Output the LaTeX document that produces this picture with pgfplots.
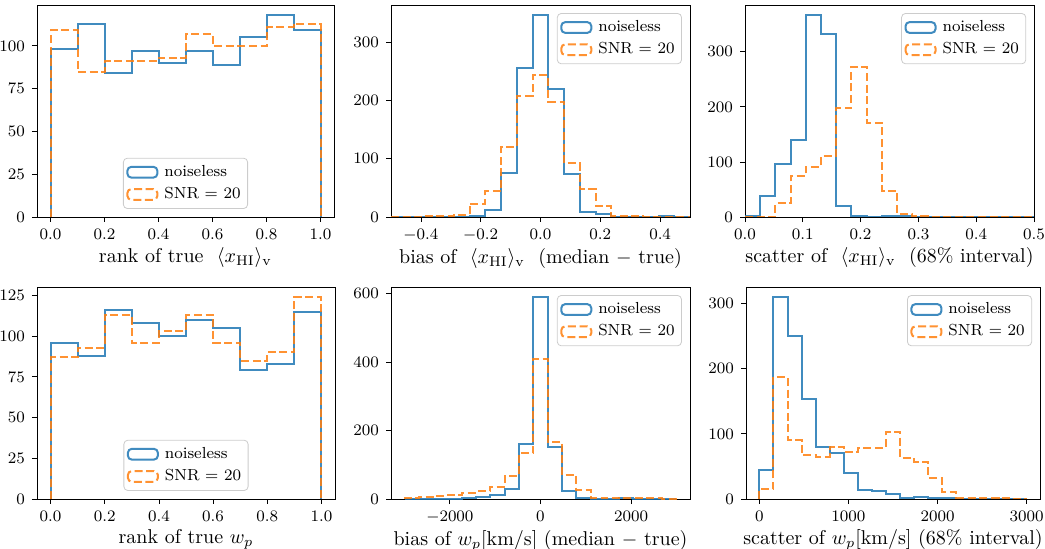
\documentclass[border=0pt]{standalone}
\usepackage{pgfplots}
\pgfplotsset{compat=1.18}
\definecolor{c0}{HTML}{1F77B4}
\definecolor{c1}{HTML}{FF7F0E}

\pgfplotsset{
  hist/.style={
    scale only axis, anchor=north west,
    height=106pt, ymin=0,
    tick align=outside, xtick pos=bottom, ytick pos=left,
    major tick length=2.5pt,
    tick style={black, line width=0.4pt},
    axis line style={line width=0.45pt},
    tick label style={font=\fontsize{8}{9.5}\selectfont},
    label style={font=\fontsize{10}{12}\selectfont},
    xlabel style={yshift=3pt},
    scaled ticks=false,
    /pgf/number format/1000 sep={},
    legend cell align=left,
    legend image code/.code={\draw[##1] (0pt,-2.7pt) rectangle (15pt,2.7pt);},
    legend style={font=\fontsize{8}{9.5}\selectfont, draw=black!20, rounded corners=2pt,
      fill=white, fill opacity=0.8, text opacity=1, inner xsep=1.5pt, inner ysep=1.5pt,
      row sep=0pt, /tikz/every odd column/.append style={column sep=1pt}},
  },
  leg ne/.style={legend style={at={(0.973,0.962)}, anchor=north east}},
  leg s/.style={legend style={at={(0.5,0.038)}, anchor=south}},
  dec x/.style={xticklabel style={/pgf/number format/.cd, fixed, fixed zerofill, precision=1}},
  nl/.style={const plot, c0, draw opacity=0.85, line width=1pt},
  snr/.style={const plot, c1, draw opacity=0.85, line width=1pt, dash pattern=on 4pt off 1.8pt},
}

\begin{document}
\begin{tikzpicture}
\path[use as bounding box] (0,0) rectangle (522.5pt,-274.5pt);

% rank of true <x_HI>
\begin{axis}[hist, leg s, dec x, at={(18.5pt,-2.5pt)}, width=148.5pt,
  xmin=-0.05, xmax=1.05, ymax=123.9,
  xtick={0,0.2,0.4,0.6,0.8,1}, ytick={0,25,50,75,100},
  xlabel={rank of true \ $\langle x_{\mathrm{HI}}\rangle_{\mathrm{v}}$}]
\addplot[nl] coordinates {(0,0)(0,98)(0.1,113)(0.2,84)(0.3,97)(0.4,90)(0.5,97)(0.6,89)(0.7,105)(0.8,118)(0.9,109)(1,109)(1,0)};
\addplot[snr] coordinates {(0,0)(0,109)(0.1,85)(0.2,91)(0.3,91)(0.4,93)(0.5,107)(0.6,100)(0.7,100)(0.8,111)(0.9,113)(1,113)(1,0)};
\legend{noiseless, SNR $=$ 20}
\end{axis}

% bias of <x_HI>
\begin{axis}[hist, leg ne, dec x, at={(195.5pt,-2.5pt)}, width=149.5pt,
  xmin=-0.5, xmax=0.5, ymax=364,
  xtick={-0.4,-0.2,0,0.2,0.4}, ytick={0,100,200,300},
  xlabel={bias of \ $\langle x_{\mathrm{HI}}\rangle_{\mathrm{v}}$ \ (median $-$ true)}]
\addplot[nl] coordinates {(-0.5,0)(-0.5,0)(-0.4474,0)(-0.3947,0)(-0.3421,0)(-0.2895,0)(-0.2368,1)(-0.1842,12)(-0.1316,75)(-0.0789,256)(-0.0263,347)(0.0263,220)(0.0789,73)(0.1316,8)(0.1842,6)(0.2368,0)(0.2895,0)(0.3421,0)(0.3947,1)(0.4474,0)(0.5,0)(0.5,0)};
\addplot[snr] coordinates {(-0.5,0)(-0.5,0)(-0.4474,0)(-0.3947,2)(-0.3421,2)(-0.2895,4)(-0.2368,23)(-0.1842,44)(-0.1316,121)(-0.0789,208)(-0.0263,243)(0.0263,198)(0.0789,92)(0.1316,48)(0.1842,19)(0.2368,2)(0.2895,1)(0.3421,0)(0.3947,0)(0.4474,0)(0.5,0)(0.5,0)};
\legend{noiseless, SNR $=$ 20}
\end{axis}

% scatter of <x_HI>
\begin{axis}[hist, leg ne, dec x, at={(372.5pt,-2.5pt)}, width=144.5pt,
  xmin=0, xmax=0.5, ymax=385,
  xtick={0,0.1,0.2,0.3,0.4,0.5}, ytick={0,100,200,300},
  xlabel={scatter of \ $\langle x_{\mathrm{HI}}\rangle_{\mathrm{v}}$ \ (68\% interval)}]
\addplot[nl] coordinates {(0,0)(0,2)(0.0263,38)(0.0526,97)(0.0789,139)(0.1053,367)(0.1316,333)(0.1579,20)(0.1842,2)(0.2105,0)(0.2368,1)(0.2632,1)(0.2895,0)(0.3158,0)(0.3421,0)(0.3684,0)(0.3947,0)(0.4211,0)(0.4474,0)(0.4737,0)(0.5,0)(0.5,0)};
\addplot[snr] coordinates {(0,0)(0,0)(0.0263,0)(0.0526,25)(0.0789,75)(0.1053,91)(0.1316,110)(0.1579,198)(0.1842,273)(0.2105,171)(0.2368,48)(0.2632,6)(0.2895,1)(0.3158,0)(0.3421,0)(0.3684,0)(0.3947,0)(0.4211,0)(0.4474,0)(0.4737,0)(0.5,0)(0.5,0)};
\legend{noiseless, SNR $=$ 20}
\end{axis}

% rank of true w_p
\begin{axis}[hist, leg s, dec x, at={(18.5pt,-143.5pt)}, width=149pt,
  xmin=-0.05, xmax=1.05, ymax=130.2,
  xtick={0,0.2,0.4,0.6,0.8,1}, ytick={0,25,50,75,100,125},
  xlabel={rank of true $w_p$}]
\addplot[nl] coordinates {(0,0)(0,96)(0.1,88)(0.2,116)(0.3,108)(0.4,100)(0.5,110)(0.6,105)(0.7,79)(0.8,83)(0.9,115)(1,115)(1,0)};
\addplot[snr] coordinates {(0,0)(0,87)(0.1,93)(0.2,113)(0.3,96)(0.4,103)(0.5,113)(0.6,96)(0.7,85)(0.8,90)(0.9,124)(1,124)(1,0)};
\legend{noiseless, SNR $=$ 20}
\end{axis}

% bias of w_p
\begin{axis}[hist, leg ne, at={(195.5pt,-143.5pt)}, width=149.5pt,
  xmin=-3300, xmax=3300, ymax=619.5,
  xtick={-2000,0,2000}, ytick={0,200,400,600},
  xlabel={bias of $w_p$[km/s] (median $-$ true)}]
\addplot[nl] coordinates {(-3000,0)(-3000,0)(-2684.2,0)(-2368.4,1)(-2052.6,1)(-1736.8,2)(-1421.1,7)(-1105.3,11)(-789.5,28)(-473.7,160)(-157.9,590)(157.9,152)(473.7,24)(789.5,3)(1105.3,0)(1421.1,1)(1736.8,2)(2052.6,1)(2368.4,0)(2684.2,0)(3000,0)(3000,0)};
\addplot[snr] coordinates {(-3000,0)(-3000,3)(-2684.2,6)(-2368.4,10)(-2052.6,13)(-1736.8,19)(-1421.1,23)(-1105.3,36)(-789.5,67)(-473.7,133)(-157.9,410)(157.9,167)(473.7,70)(789.5,27)(1105.3,3)(1421.1,2)(1736.8,2)(2052.6,3)(2368.4,3)(2684.2,1)(3000,1)(3000,0)};
\legend{noiseless, SNR $=$ 20}
\end{axis}

% scatter of w_p
\begin{axis}[hist, leg ne, at={(373pt,-143.5pt)}, width=147pt,
  xmin=-150, xmax=3150, ymax=325.5,
  xtick={0,1000,2000,3000}, ytick={0,100,200,300},
  xlabel={scatter of $w_p$[km/s] (68\% interval)}]
\addplot[nl] coordinates {(0,0)(0,45)(157.9,310)(315.8,250)(473.7,153)(631.6,80)(789.5,71)(947.4,40)(1105.3,14)(1263.2,13)(1421.1,7)(1578.9,1)(1736.8,3)(1894.7,1)(2052.6,2)(2210.5,0)(2368.4,0)(2526.3,0)(2684.2,0)(2842.1,0)(3000,0)(3000,0)};
\addplot[snr] coordinates {(0,0)(0,15)(157.9,187)(315.8,91)(473.7,67)(631.6,65)(789.5,80)(947.4,72)(1105.3,79)(1263.2,79)(1421.1,103)(1578.9,63)(1736.8,57)(1894.7,32)(2052.6,10)(2210.5,2)(2368.4,2)(2526.3,2)(2684.2,1)(2842.1,0)(3000,0)(3000,0)};
\legend{noiseless, SNR $=$ 20}
\end{axis}
\end{tikzpicture}
\end{document}
